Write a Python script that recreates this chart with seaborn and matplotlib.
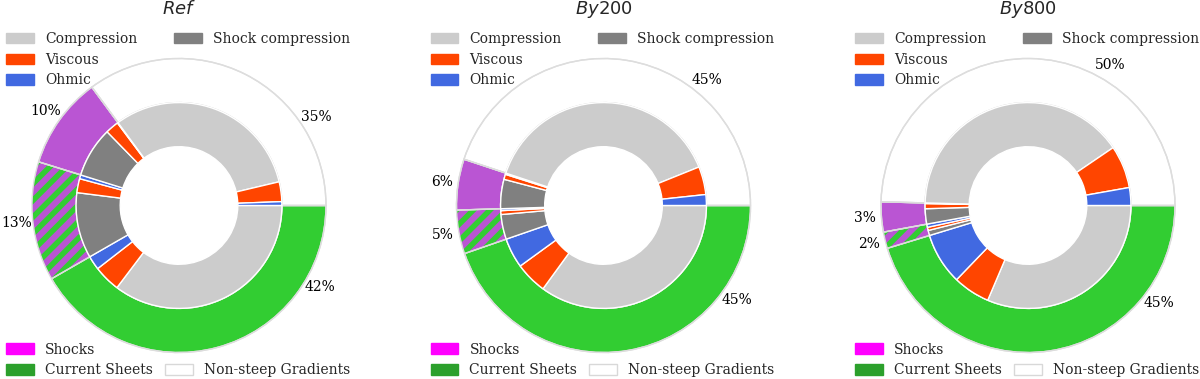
import math
import matplotlib
matplotlib.use("Agg")
import matplotlib.pyplot as plt
import matplotlib.patches as mpatches
import seaborn as sns

sns.set_theme(style="white")
plt.rcParams["font.family"] = ["DejaVu Serif"]
plt.rcParams["mathtext.fontset"] = "dejavusans"
plt.rcParams["hatch.linewidth"] = 4.0
plt.rcParams["hatch.color"] = "#32cd32"

# ---------------- data ----------------
runs = ["$Ref$", "$By$200", "$By$800"]
groups = ["Current Sheets", "Shocks & Current Sheets", "Shocks", "Non-steep Gradients"]

# outer ring: share (%) of each region type  [CS, Shocks+CS, Shocks, Non-steep]
outer_ref = [41.7, 13.1, 10.1, 35.1]
outer_by200 = [44.7, 4.8, 5.6, 44.9]
outer_by800 = [45.3, 1.8, 3.3, 49.6]

# inner ring: heating mechanisms inside each region type  [CS, Shocks+CS, Shocks, Non-steep]
compression_ref = [35.3, 0.0, 0.0, 31.4]
shock_comp_ref = [0.0, 10.3, 7.9, 0.0]
viscous_ref = [4.2, 2.2, 2.1, 3.1]
ohmic_ref = [2.2, 0.6, 0.1, 0.6]

compression_by200 = [35.0, 0.0, 0.0, 38.8]
shock_comp_by200 = [0.0, 3.9, 4.6, 0.0]
viscous_by200 = [5.0, 0.6, 0.8, 4.4]
ohmic_by200 = [4.7, 0.3, 0.2, 1.7]

compression_by800 = [31.4, 0.0, 0.0, 40.1]
shock_comp_by800 = [0.0, 0.8, 2.4, 0.0]
viscous_by800 = [5.8, 0.5, 0.8, 6.7]
ohmic_by800 = [8.1, 0.5, 0.1, 2.8]

panels = [
    (outer_ref, compression_ref, shock_comp_ref, viscous_ref, ohmic_ref),
    (outer_by200, compression_by200, shock_comp_by200, viscous_by200, ohmic_by200),
    (outer_by800, compression_by800, shock_comp_by800, viscous_by800, ohmic_by800),
]

# label angles (deg) used for the two big outer wedges [CS, Non-steep]
big_label_angles = [(-30.0, 32.7), (-35.2, 50.5), (-36.6, 59.6)]

# ---------------- style ----------------
c_comp = "#cccccc"
c_shock = "#808080"
c_visc = "#ff4500"
c_ohm = "#4169e1"
c_shk_region = "#ba55d3"
c_cs_region = "#32cd32"
outer_colors = [c_cs_region, c_shk_region, c_shk_region, "white"]
mech_colors = [c_comp, c_shock, c_visc, c_ohm]

FW, FH = 1200, 379
R = 147.0
CY = 205.5
centers = [179.0 + 424.5 * i for i in range(3)]
AW = 424.5

fig = plt.figure(figsize=(FW / 100, FH / 100), dpi=100)

top_handles = [
    mpatches.Patch(facecolor=c_comp, edgecolor=c_comp, label="Compression"),
    mpatches.Patch(facecolor=c_visc, edgecolor=c_visc, label="Viscous"),
    mpatches.Patch(facecolor=c_ohm, edgecolor=c_ohm, label="Ohmic"),
    mpatches.Patch(facecolor=c_shock, edgecolor=c_shock, label="Shock compression"),
    mpatches.Patch(facecolor="none", edgecolor="none", label=""),
    mpatches.Patch(facecolor="none", edgecolor="none", label=""),
]
bot_handles = [
    mpatches.Patch(facecolor="#ff00ff", edgecolor="#ff00ff", label="Shocks"),
    mpatches.Patch(facecolor="#2ca02c", edgecolor="#2ca02c", label="Current Sheets"),
    mpatches.Patch(facecolor="none", edgecolor="none", label=""),
    mpatches.Patch(facecolor="white", edgecolor="#d8d8d8", label="Non-steep Gradients"),
]
leg_kw = dict(ncol=2, mode="expand", loc="upper left", frameon=False, borderpad=0,
              borderaxespad=0, labelspacing=0.48, handlelength=2.0, handleheight=0.8,
              handletextpad=0.8, prop=dict(family="DejaVu Serif", size=10))

for i, (title, data, angs) in enumerate(zip(runs, panels, big_label_angles)):
    outer, comp, shk, visc, ohm = data
    cx = centers[i]
    ax = fig.add_axes([(cx - AW / 2) / FW, 0, AW / FW, 1])

    wedges, _, autot = ax.pie(
        outer, radius=1.0, startangle=0, counterclock=False, colors=outer_colors,
        wedgeprops=dict(width=0.3, edgecolor="#dddddd", linewidth=1.0),
        autopct="%1.0f%%", pctdistance=1.11,
        textprops=dict(fontsize=10, family="DejaVu Serif", color="black"))
    # hatched mixed region (shocks + current sheets)
    hw = wedges[1]
    hw.set_edgecolor(c_cs_region)
    hw.set_hatch("//")
    hw.set_linewidth(0)
    if hasattr(hw, "set_hatch_linewidth"):
        hw.set_hatch_linewidth(4.0)
    # outline overlay
    ax.pie(outer, radius=1.0, startangle=0, counterclock=False, colors=["none"] * 4,
           wedgeprops=dict(width=0.3, edgecolor="#dddddd", linewidth=1.0))

    # move the two big-wedge labels
    for idx, a in zip([0, 3], angs):
        t = math.radians(a)
        autot[idx].set_position((1.11 * math.cos(t), 1.11 * math.sin(t)))

    # inner ring
    vals, cols = [], []
    for g in range(4):
        for v, c in zip([comp[g], shk[g], visc[g], ohm[g]], mech_colors):
            if v > 0:
                vals.append(v)
                cols.append(c)
    ax.pie(vals, radius=0.7, startangle=0, counterclock=False, colors=cols,
           wedgeprops=dict(width=0.3, edgecolor="white", linewidth=1.0))

    ax.set_xlim(-AW / 2 / R, AW / 2 / R)
    ax.set_ylim(-(FH - CY) / R, CY / R)
    ax.set_aspect("auto")
    ax.axis("off")

    ax.text(0, (CY - 9) / R, title, ha="center", va="center", fontsize=13,
            family="DejaVu Sans")

    lx0 = -173 / R
    lw = 344 / R
    ytop = (CY - 32.0) / R
    leg1 = ax.legend(handles=top_handles, bbox_to_anchor=(lx0, ytop - 0.5, lw, 0.5),
                     bbox_transform=ax.transData, **leg_kw)
    ax.add_artist(leg1)
    ybot_top = (CY - 342.5) / R
    ax.legend(handles=bot_handles, bbox_to_anchor=(lx0, ybot_top - 0.5, lw, 0.5),
              bbox_transform=ax.transData, **leg_kw)

fig.savefig("out.png", dpi=100)
